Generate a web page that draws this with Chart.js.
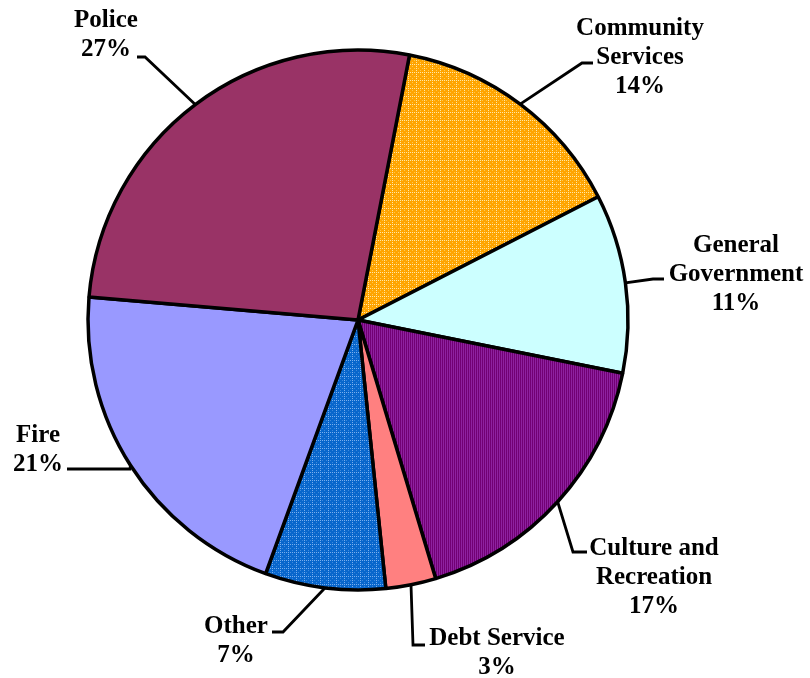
<!DOCTYPE html>
<html lang="en">
<head>
    <meta charset="UTF-8">
    <title>Expenditures by function</title>
    <style>
        html, body { margin: 0; padding: 0; background: #fff; }
        #wrap { width: 810px; height: 678px; }
    </style>
</head>
<body>
    <div id="wrap"><canvas id="myChart" width="810" height="678"></canvas></div>

    <script src="https://cdn.jsdelivr.net/npm/chart.js@4.4.1/dist/chart.umd.min.js"></script>
    <script type="text/javascript">
        // Data (clockwise, starting at Community Services)
        const categories = ['Community Services', 'General Government', 'Culture and Recreation', 'Debt Service', 'Other', 'Fire', 'Police'];
        const shares = [14.4, 10.7, 17.2, 3.0, 7.2, 20.8, 26.7];
        const percentLabels = ['14%', '11%', '17%', '3%', '7%', '21%', '27%'];
        const labelLines = [['Community', 'Services'], ['General', 'Government'], ['Culture and', 'Recreation'], ['Debt Service'], ['Other'], ['Fire'], ['Police']];

        // where each label sits and how its leader line bends
        const labelLayout = [
            { x: 640, y: 35,  elbow: [582, 63],  end: [593, 63] },
            { x: 736, y: 252, elbow: [653, 279], end: [664, 279] },
            { x: 654, y: 555, elbow: [573, 552], end: [587, 552] },
            { x: 497, y: 645, elbow: [413, 645], end: [425, 645] },
            { x: 236, y: 633, elbow: [283, 632], end: [272, 632] },
            { x: 38,  y: 442, elbow: [130, 469], end: [67, 469] },
            { x: 106, y: 27,  elbow: [145, 57],  end: [137, 57] }
        ];

        // small tiled fills like the old office patterns
        function makeTile(base, draw) {
            const c = document.createElement('canvas');
            c.width = 8; c.height = 8;
            const g = c.getContext('2d');
            g.fillStyle = base;
            g.fillRect(0, 0, 8, 8);
            draw(g);
            return g.createPattern(c, 'repeat');
        }

        const orangeFill = makeTile('#FFA400', g => {
            g.fillStyle = '#FFE8A8';
            for (let i = 0; i < 8; i += 2) { g.fillRect(i, 0, 1, 1); g.fillRect(0, i, 1, 1); }
            g.fillStyle = '#FFC850';
            for (let i = 2; i < 8; i += 4) { g.fillRect(i, 4, 1, 1); g.fillRect(4, i, 1, 1); }
        });
        const purpleFill = makeTile('#720074', g => {
            g.fillStyle = '#8E22A0';
            for (let x = 1; x < 8; x += 2) g.fillRect(x, 0, 1, 8);
        });
        const blueFill = makeTile('#0866CC', g => {
            g.fillStyle = '#78AEEE';
            for (let i = 0; i < 8; i += 2) { g.fillRect(i, 0, 1, 1); g.fillRect(0, i, 1, 1); }
            g.fillStyle = '#3C88DC';
            for (let i = 2; i < 8; i += 4) { g.fillRect(i, 4, 1, 1); g.fillRect(4, i, 1, 1); }
        });

        const sliceColors = [orangeFill, '#CCFFFF', purpleFill, '#FF8080', blueFill, '#9999FF', '#993366'];

        const labelFont = 'bold 25px "Liberation Serif", "Times New Roman", serif';

        // draws the text labels and their leader lines
        const calloutPlugin = {
            id: 'callouts',
            afterDatasetsDraw(chart) {
                const ctx = chart.ctx;
                const arcs = chart.getDatasetMeta(0).data;
                ctx.save();
                ctx.strokeStyle = '#000';
                ctx.lineWidth = 2.8;
                ctx.lineJoin = 'miter';
                arcs.forEach((arc, i) => {
                    const lay = labelLayout[i];
                    const mid = (arc.startAngle + arc.endAngle) / 2;
                    const sx = arc.x + Math.cos(mid) * arc.outerRadius;
                    const sy = arc.y + Math.sin(mid) * arc.outerRadius;
                    ctx.beginPath();
                    ctx.moveTo(sx, sy);
                    ctx.lineTo(lay.elbow[0], lay.elbow[1]);
                    ctx.lineTo(lay.end[0], lay.end[1]);
                    ctx.stroke();

                    ctx.fillStyle = '#000';
                    ctx.font = labelFont;
                    ctx.textAlign = 'center';
                    ctx.textBaseline = 'alphabetic';
                    const lines = labelLines[i].concat([percentLabels[i]]);
                    lines.forEach((t, k) => ctx.fillText(t, lay.x, lay.y + k * 29));
                });
                ctx.restore();
            }
        };

        var ctx = document.getElementById('myChart');
        var myChart = new Chart(ctx, {
            type: 'pie',
            data: {
                labels: categories,
                datasets: [{
                    data: shares,
                    backgroundColor: sliceColors,
                    borderColor: '#000',
                    borderWidth: 3.5,
                    radius: 270
                }]
            },
            options: {
                responsive: false,
                animation: false,
                events: [],
                rotation: 11,
                layout: { padding: { left: 88, right: 182, top: 50, bottom: 88 } },
                plugins: {
                    legend: { display: false },
                    tooltip: { enabled: false }
                }
            },
            plugins: [calloutPlugin]
        });
    </script>
</body>
</html>
